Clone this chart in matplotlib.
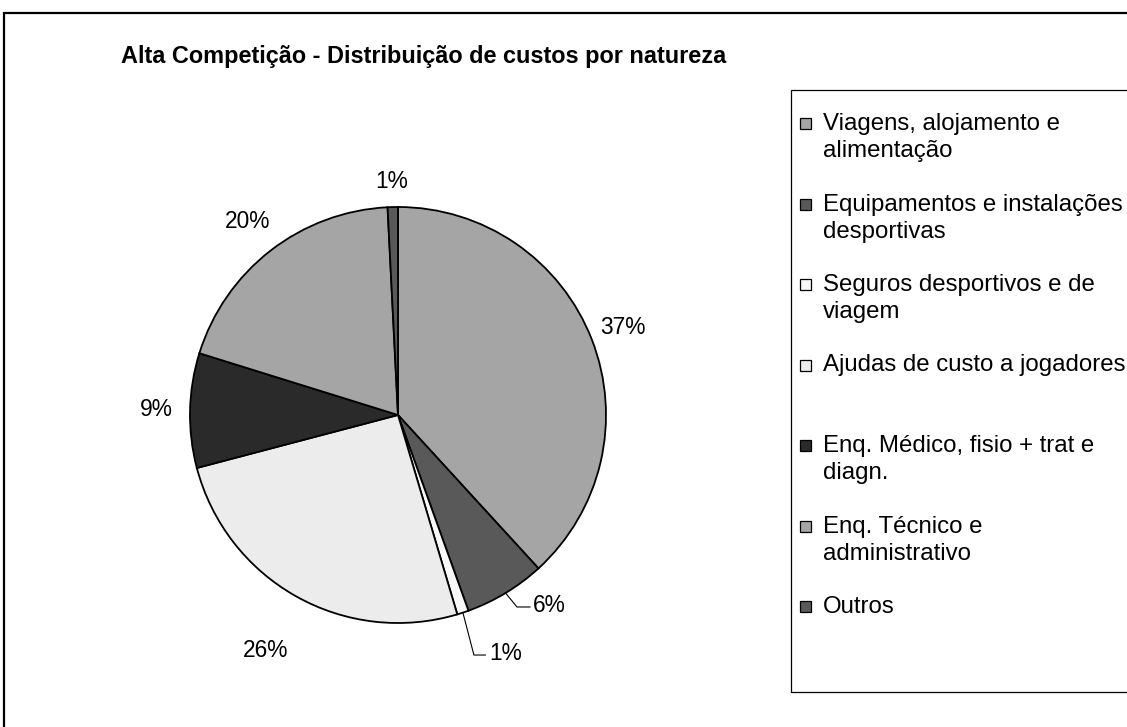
import textwrap
import numpy as np
import matplotlib.pyplot as plt
from matplotlib.patches import Rectangle

categories = ["Viagens, alojamento e alimentação",
              "Equipamentos e instalações desportivas",
              "Seguros desportivos e de viagem",
              "Ajudas de custo a jogadores",
              "Enq. Médico, fisio + trat e diagn.",
              "Enq. Técnico e administrativo",
              "Outros"]
values = [38.2, 6.3, 0.9, 25.5, 8.9, 19.4, 0.8]
pct_labels = ["37%", "6%", "1%", "26%", "9%", "20%", "1%"]
colors = ["#a5a5a5", "#595959", "#f8f8f8", "#ececec", "#2a2a2a", "#a5a5a5", "#595959"]

plt.rcParams['font.family'] = ['Liberation Sans', 'DejaVu Sans']

W, H = 1127, 727
fig = plt.figure(figsize=(W / 100, H / 100), dpi=100)

# outer chart border
fig.patches.append(Rectangle((4 / W, -0.1), 1.2, (H - 13) / H + 0.1, transform=fig.transFigure,
                             fill=False, edgecolor="#000000", linewidth=1.6))

fig.text(424 / W, 1 - 57 / H, "Alta Competição - Distribuição de custos por natureza",
         ha="center", va="center", fontsize=16.9, fontweight="bold")

# pie
cx, cy, r = 398, 415, 208
ax = fig.add_axes([(cx - r) / W, (H - cy - r) / H, 2 * r / W, 2 * r / H])
wedges, _ = ax.pie(values, colors=colors, startangle=90, counterclock=False, radius=1,
                   wedgeprops=dict(edgecolor="black", linewidth=1.3))
ax.set_xlim(-1, 1)
ax.set_ylim(-1, 1)
ax.axis("off")

label_dist = [1.16, None, None, 1.30, 1.16, 1.18, 1.125]
fs = 16.4
for i, w in enumerate(wedges):
    mid = np.deg2rad((w.theta1 + w.theta2) / 2)
    x, y = np.cos(mid), np.sin(mid)
    if i == 1:
        ax.plot([x, 0.572, 0.635], [y, -0.923, -0.923], color="black", lw=0.8, clip_on=False)
        ax.text(0.65, -0.915, pct_labels[i], ha="left", va="center", fontsize=fs)
    elif i == 2:
        ax.plot([x, 0.365, 0.42], [y, -1.154, -1.154], color="black", lw=0.8, clip_on=False)
        ax.text(0.44, -1.145, pct_labels[i], ha="left", va="center", fontsize=fs)
    else:
        d = label_dist[i]
        ax.text(x * d, y * d, pct_labels[i], ha="center", va="center", fontsize=fs)

# legend box
fig.patches.append(Rectangle((791 / W, 1 - 692 / H), 0.5, (692 - 90) / H, transform=fig.transFigure,
                             fill=False, edgecolor="#000000", linewidth=0.9))
for i, name in enumerate(categories):
    ytop = 113 + i * 80.5
    fig.patches.append(Rectangle((800 / W, 1 - (ytop + 16) / H), 11 / W, 11 / H,
                                 transform=fig.transFigure, facecolor=colors[i],
                                 edgecolor="black", linewidth=0.9))
    fig.text(823 / W, 1 - ytop / H, "\n".join(textwrap.wrap(name, 27)),
             ha="left", va="top", fontsize=17.3, linespacing=1.3)

fig.savefig("out.png", dpi=100)
